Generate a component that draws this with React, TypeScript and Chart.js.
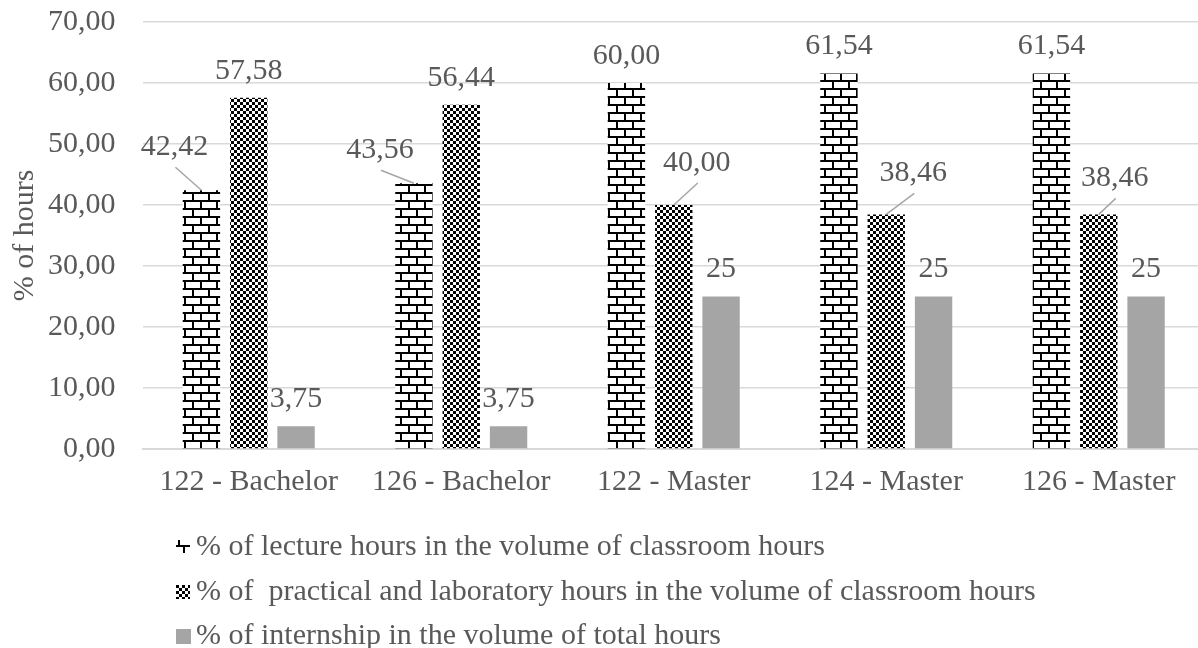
import React, { useEffect, useRef } from "react";
import { Chart, registerables } from "chart.js";

Chart.register(...registerables);

// ---- data ----
const categories = ["122 - Bachelor", "126 - Bachelor", "122 - Master", "124 - Master", "126 - Master"];
const lectureShare = [42.42, 43.56, 60.0, 61.54, 61.54];
const practicalShare = [57.58, 56.44, 40.0, 38.46, 38.46];
const internshipShare = [3.75, 3.75, 25, 25, 25];
const seriesNames = [
  "% of lecture hours in the volume of classroom hours",
  "% of  practical and laboratory hours in the volume of classroom hours",
  "% of internship in the volume of total hours",
];
const yAxisTitle = "% of hours";
const yMin = 0;
const yMax = 70;
const yStep = 10;

// ---- style ----
const FONT = '"Liberation Serif", "Times New Roman", serif';
const FONT_SIZE = 30;
const TEXT = "#595959";
const GRID = "#d9d9d9";
const GREY_BAR = "#a5a5a5";
const CANVAS_W = 1206;
const CANVAS_H = 648;

// label offsets (dx, dy from bar top centre) for labels that use a leader line
const LEADER_OFFSETS: Record<string, [number, number]> = {
  "0-0": [-27, -43],
  "0-1": [-34, -33],
  "1-2": [23, -42],
  "1-3": [27, -41],
  "1-4": [16, -36],
};
const DEFAULT_DY = -27;

const comma = (s: string) => s.replace(".", ",");
const formatters = [
  (v: number) => comma(v.toFixed(2)),
  (v: number) => comma(v.toFixed(2)),
  (v: number) => comma(String(v)),
];

function makeBrickPattern(ctx: CanvasRenderingContext2D) {
  const c = document.createElement("canvas");
  c.width = 16;
  c.height = 16;
  const g = c.getContext("2d")!;
  g.fillStyle = "#ffffff";
  g.fillRect(0, 0, 16, 16);
  g.fillStyle = "#000000";
  g.fillRect(0, 0, 16, 2);
  g.fillRect(0, 8, 16, 2);
  g.fillRect(0, 0, 2, 8);
  g.fillRect(8, 8, 2, 8);
  return ctx.createPattern(c, "repeat")!;
}

function makeCheckerPattern(ctx: CanvasRenderingContext2D) {
  const c = document.createElement("canvas");
  c.width = 6;
  c.height = 6;
  const g = c.getContext("2d")!;
  g.fillStyle = "#ffffff";
  g.fillRect(0, 0, 6, 6);
  g.fillStyle = "#000000";
  g.fillRect(0, 0, 3, 3);
  g.fillRect(3, 3, 3, 3);
  return ctx.createPattern(c, "repeat")!;
}

export default function App() {
  const ref = useRef<HTMLCanvasElement | null>(null);

  useEffect(() => {
    const canvas = ref.current!;
    const ctx0 = canvas.getContext("2d")!;
    const brick = makeBrickPattern(ctx0);
    const checker = makeCheckerPattern(ctx0);
    const fills: (string | CanvasPattern)[] = [brick, checker, GREY_BAR];

    const valueLabels = {
      id: "valueLabels",
      afterDatasetsDraw(chart: any) {
        const ctx = chart.ctx as CanvasRenderingContext2D;
        ctx.save();
        ctx.font = `${FONT_SIZE}px ${FONT}`;
        ctx.fillStyle = TEXT;
        ctx.textAlign = "center";
        ctx.textBaseline = "middle";
        chart.data.datasets.forEach((ds: any, di: number) => {
          const meta = chart.getDatasetMeta(di);
          meta.data.forEach((bar: any, i: number) => {
            const v = ds.data[i] as number;
            const text = formatters[di](v);
            const off = LEADER_OFFSETS[`${di}-${i}`];
            const x = bar.x + (off ? off[0] : 0);
            const y = bar.y + (off ? off[1] : DEFAULT_DY);
            if (off) {
              ctx.save();
              ctx.strokeStyle = "#a6a6a6";
              ctx.lineWidth = 1.5;
              ctx.beginPath();
              ctx.moveTo(x + 1, y + 20);
              ctx.lineTo(bar.x, bar.y);
              ctx.stroke();
              ctx.restore();
            }
            ctx.fillText(text, x, y);
          });
        });
        ctx.restore();
      },
    };

    const legendPlugin = {
      id: "customLegend",
      afterDraw(chart: any) {
        const ctx = chart.ctx as CanvasRenderingContext2D;
        const baselines = [555, 600, 644];
        ctx.save();
        ctx.font = `${FONT_SIZE}px ${FONT}`;
        ctx.fillStyle = TEXT;
        ctx.textAlign = "left";
        ctx.textBaseline = "alphabetic";
        seriesNames.forEach((name, i) => {
          const b = baselines[i];
          const mx = 176;
          const my = b - 15;
          ctx.save();
          if (i === 0) {
            ctx.fillStyle = "#000";
            ctx.fillRect(mx, my + 5, 14, 2);
            ctx.fillRect(mx + 7, my + 5, 2, 8);
            ctx.fillRect(mx + 2, my, 2, 5);
          } else if (i === 1) {
            ctx.translate(mx, my);
            ctx.fillStyle = fills[1] as CanvasPattern;
            ctx.fillRect(0, 0, 14, 14);
          } else {
            ctx.fillStyle = GREY_BAR;
            ctx.fillRect(mx, my, 15, 15);
          }
          ctx.restore();
          ctx.fillStyle = TEXT;
          ctx.fillText(name, 196, b);
        });
        ctx.restore();
      },
    };

    const chart = new Chart(canvas, {
      type: "bar",
      data: {
        labels: categories,
        datasets: [
          { label: seriesNames[0], data: lectureShare, backgroundColor: fills[0] as any },
          { label: seriesNames[1], data: practicalShare, backgroundColor: fills[1] as any },
          { label: seriesNames[2], data: internshipShare, backgroundColor: fills[2] as any },
        ],
      },
      options: {
        responsive: false,
        animation: false,
        devicePixelRatio: 1,
        layout: { padding: { top: 22, right: 1, bottom: 139, left: 0 } },
        datasets: {
          bar: { categoryPercentage: 0.668, barPercentage: 0.79 },
        } as any,
        plugins: {
          legend: { display: false },
          tooltip: { enabled: false },
        },
        scales: {
          x: {
            grid: { display: false, drawTicks: false },
            border: { display: true, color: GRID, width: 2 },
            ticks: {
              color: TEXT,
              font: { family: FONT, size: FONT_SIZE },
              padding: 15,
              maxRotation: 0,
              autoSkip: false,
            },
            afterFit(scale: any) {
              scale.height = 60;
              scale.paddingLeft = 0;
              scale.paddingRight = 0;
            },
          },
          y: {
            min: yMin,
            max: yMax,
            grid: { color: GRID, lineWidth: 1.5, drawTicks: false },
            border: { display: false },
            ticks: {
              stepSize: yStep,
              color: TEXT,
              font: { family: FONT, size: FONT_SIZE },
              padding: 27,
              callback: (v: any) => comma(Number(v).toFixed(2)),
            },
            title: {
              display: true,
              text: yAxisTitle,
              color: TEXT,
              font: { family: FONT, size: FONT_SIZE },
              padding: { top: 7, bottom: 0 },
            },
            afterFit(scale: any) {
              scale.width = 142.5;
              scale.paddingTop = 0;
              scale.paddingBottom = 0;
            },
          },
        },
      },
      plugins: [valueLabels, legendPlugin],
    });

    return () => chart.destroy();
  }, []);

  return (
    <div
      style={{
        position: "fixed",
        left: 0,
        top: 0,
        width: 1198,
        height: 648,
        overflow: "hidden",
        background: "#ffffff",
      }}
    >
      <canvas ref={ref} width={CANVAS_W} height={CANVAS_H} style={{ display: "block" }} />
    </div>
  );
}
